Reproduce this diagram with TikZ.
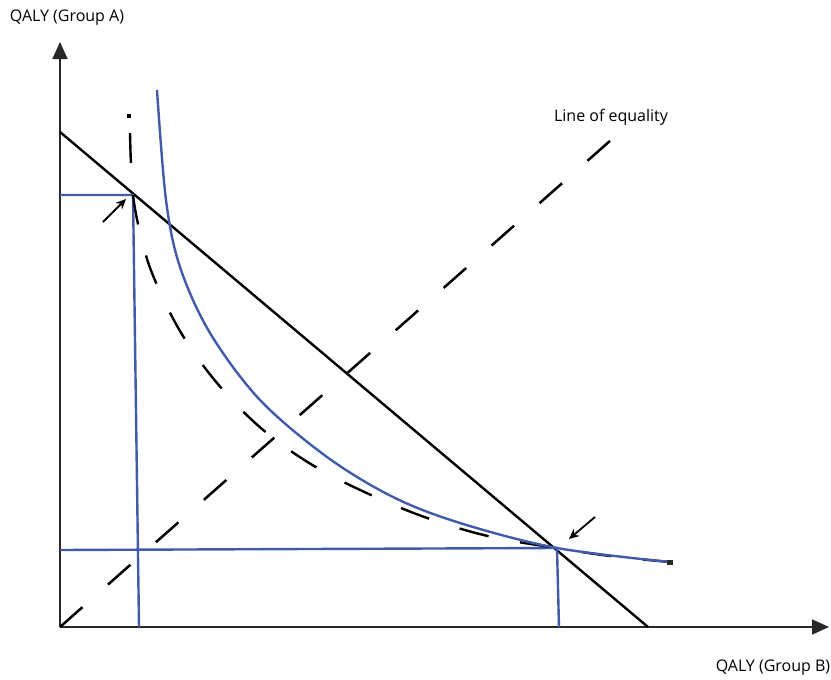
\documentclass[tikz,border=0pt]{standalone}
\usepackage{fontspec}
\setmainfont{Open Sans}
\usetikzlibrary{positioning,arrows.meta}
\definecolor{curveblue}{RGB}{63,91,170}
\definecolor{axisgray}{RGB}{40,40,40}

\begin{document}
\begin{tikzpicture}[x=1pt, y=-1pt, font=\fontsize{16}{19}\selectfont,
  axis/.style={draw=axisgray, line width=1.6pt, -{Triangle[width=15pt,length=17pt]}},
  budget/.style={draw=black, line width=2.4pt},
  equality/.style={draw=black, line width=2.5pt, dash pattern=on 30pt off 34pt},
  frontier/.style={draw=black, line width=2.4pt, dash pattern=on 30pt off 32pt},
  welfare/.style={draw=curveblue, line width=2.4pt},
  guide/.style={draw=curveblue, line width=2.4pt},
  pointer/.style={draw=black, line width=1.8pt, -{Stealth[length=10pt,width=9pt]}},
  label/.style={inner sep=0pt}]
  \useasboundingbox (0,0) rectangle (831,680);
  % axes
  \coordinate (O) at (60,627);
  \coordinate (yTip) at (60,42);
  \coordinate (xTip) at (829,627);
  \draw[axis] (O) -- (yTip);
  \draw[axis] (O) -- (xTip);
  \node[label] (qalyA) at (67,18) {QALY (Group A)};
  \node[label] (qalyB) at (773,668) {QALY (Group B)};
  % budget line
  \coordinate (budA) at (60,132);
  \coordinate (budB) at (648,627);
  \draw[budget] (budA) -- (budB);
  % line of equality
  \coordinate (eqEnd) at (611,140);
  \draw[equality] (O) -- (eqEnd);
  \node[label] (eqLabel) at (611,117) {Line of equality};
  % guide lines to the two optima
  \coordinate (optA) at (133,195);
  \coordinate (optB) at (557,548);
  \draw[guide] (60,195) -- (optA) -- (139,627);
  \draw[guide] (60,550) -- (optB) -- (559,627);
  % dashed frontier
  \fill[black] (127,114) rectangle (131,118);
  \draw[frontier] plot[smooth, tension=0.6] coordinates {(130,133) (131,165) (133,195)
    (139,228) (152,273) (180,331) (217,383) (262,429) (314,466) (371,495)
    (430,519) (492,537) (557,548) (610,556) (670,562)};
  % welfare curve
  \draw[welfare] plot[smooth, tension=0.55] coordinates {(157,90) (166,200) (180,267)
    (210,333) (260,400) (327,457) (393,497) (460,523) (557,548) (670,562)};
  \fill[axisgray] (667,559.5) rectangle (673,564.5);
  % pointers
  \coordinate (pA) at (103,222);
  \coordinate (pB) at (595,517);
  \draw[pointer] (pA) -- (126,199);
  \draw[pointer] (pB) -- (569,539);
\end{tikzpicture}
\end{document}
